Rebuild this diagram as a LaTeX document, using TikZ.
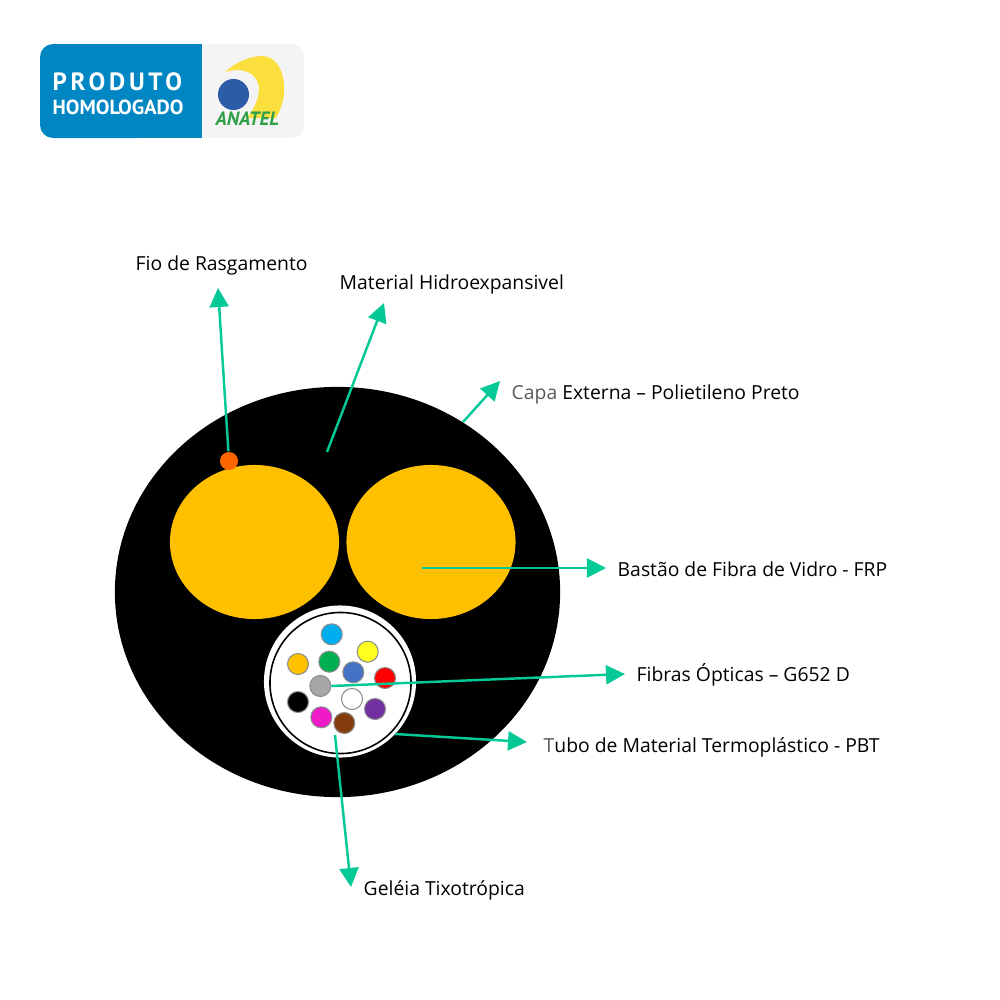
\documentclass[tikz,border=0pt]{standalone}
\usepackage{fontspec}
\setmainfont{Open Sans}
\newfontfamily\logofont[LetterSpace=15]{PT Sans}
\newfontfamily\logotight{PT Sans}
\usetikzlibrary{positioning,arrows.meta,shapes.geometric}

\definecolor{seta}{HTML}{04C997}
\definecolor{ouro}{HTML}{FFC000}
\definecolor{azulselo}{HTML}{0087C3}
\definecolor{cinzaselo}{HTML}{F4F4F4}
\definecolor{amarelologo}{HTML}{FBDF3C}
\definecolor{azullogo}{HTML}{2C5CA8}
\definecolor{verdelogo}{HTML}{2E9E47}
\definecolor{fceu}{HTML}{00AEEF}
\definecolor{famarelo}{HTML}{FFFF1E}
\definecolor{fverde}{HTML}{00B050}
\definecolor{fazul}{HTML}{4472C4}
\definecolor{fvermelho}{HTML}{FF0000}
\definecolor{fcinza}{HTML}{A6A6A6}
\definecolor{froxo}{HTML}{7030A0}
\definecolor{frosa}{HTML}{F01BC8}
\definecolor{fmarrom}{HTML}{843C0C}
\definecolor{laranja}{HTML}{FF6600}

\tikzset{
  legenda/.style={anchor=west,inner sep=0pt,font=\fontsize{5.5pt}{6pt}\selectfont},
  fibra/.style={circle,fill=#1,draw=black!45,line width=.3pt,minimum size=.21cm,inner sep=0pt},
  seta/.style={draw=seta,line width=.7pt,-{Triangle[length=.19cm,width=.19cm]}}
}

\begin{document}
\begin{tikzpicture}[x=.01cm,y=-.01cm]
        \useasboundingbox (0,0) rectangle (1000,1000);

        % selo
        \fill[cinzaselo,rounded corners=.13cm] (150,44) rectangle (304,138);
        \fill[azulselo,rounded corners=.13cm] (40,44) rectangle (150,138);
        \fill[azulselo] (120,44) rectangle (202,138);
        \fill[amarelologo] (225,72) .. controls (236,62) and (250,56) .. (263,56)
          .. controls (277,57) and (284,72) .. (284,87)
          .. controls (285,98) and (281,109) .. (276,118) -- (247,118)
          .. controls (254,109) and (259,99) .. (259,88)
          .. controls (258,75) and (246,66) .. (225,72) -- cycle;
        \node[circle,fill=azullogo,minimum size=.31cm,inner sep=0pt] (bola) at (233.5,94.5) {};
        \node[anchor=west,inner sep=0pt,text=white,font=\fontsize{7.1pt}{8pt}\logofont\bfseries] (produto) at (52,81.5) {PRODUTO};
        \node[anchor=west,inner sep=0pt,text=white,font=\fontsize{5.8pt}{7pt}\logotight\bfseries] (homologado) at (52,107) {HOMOLOGADO};
        \node[anchor=west,inner sep=0pt,text=verdelogo,font=\fontsize{5.5pt}{6pt}\logotight\bfseries\itshape] (anatel) at (215,119) {ANATEL};

        % cabo
        \begin{scope}[every node/.style={ellipse,inner sep=0pt}]
          \node[fill=black,minimum width=4.45cm,minimum height=4.1cm] (capa) at (337.5,592) {};
          \node[fill=ouro,minimum width=1.69cm,minimum height=1.54cm] (bastaoE) at (254.5,542) {};
          \node[fill=ouro,minimum width=1.69cm,minimum height=1.54cm] (bastaoD) at (431,542) {};
        \end{scope}
        \node[circle,fill=white,minimum size=1.52cm,inner sep=0pt] (tubo) at (340,681.5) {};
        \node[circle,draw=black,line width=.45pt,minimum size=1.41cm,inner sep=0pt] (anel) at (340.5,683) {};

        % fibras
        \node[fibra=fceu] (f1) at (331.7,634.3) {};
        \node[fibra=famarelo] (f2) at (367.7,651.7) {};
        \node[fibra=ouro] (f3) at (298,664) {};
        \node[fibra=fverde] (f4) at (329.3,661.7) {};
        \node[fibra=fazul] (f5) at (353.3,672.3) {};
        \node[fibra=fvermelho] (f6) at (385,678) {};
        \node[fibra=fcinza] (f7) at (320.3,686) {};
        \node[fibra=white] (f8) at (352,699) {};
        \node[fibra=black] (f9) at (298,702) {};
        \node[fibra=froxo] (f10) at (375,709) {};
        \node[fibra=frosa] (f11) at (321.3,717.3) {};
        \node[fibra=fmarrom] (f12) at (344.3,723) {};

        % pontas das setas
        \coordinate (pFio) at (218,288);
        \coordinate (pHidro) at (384,303);
        \coordinate (pCapa) at (500,381);
        \coordinate (pBastao) at (606,568);
        \coordinate (pFibras) at (625,674);
        \coordinate (pTubo) at (527,742);
        \coordinate (pGeleia) at (351,887);
        \coordinate (oHidro) at (327,452);
        \coordinate (oCapa) at (463,422);
        \coordinate (oBastao) at (422,568);
        \coordinate (oTubo) at (395,734);
        \coordinate (oGeleia) at (335,735);

        \begin{scope}[every edge/.style={seta}]
          \path (oHidro) edge (pHidro);
          \path (oCapa) edge (pCapa);
          \path (oBastao) edge (pBastao);
          \path (f7.east) edge (pFibras);
          \path (oTubo) edge (pTubo);
          \path (oGeleia) edge (pGeleia);
        \end{scope}

        \node[circle,fill=laranja,minimum size=.18cm,inner sep=0pt] (rasgo) at (229,461) {};
        \path (rasgo) edge[seta] (pFio);

        % legendas
        \begin{scope}[every node/.style={legenda}]
          \node (fio) at (135,265) {Fio de Rasgamento};
          \node (hidro) at (339,284) {Material Hidroexpansivel};
          \node (externa) at (511,394) {\textcolor{black!65}{Capa} Externa – Polietileno Preto};
          \node (bastao) at (617,569) {Bastão de Fibra de Vidro - FRP};
          \node (fibras) at (636,675) {Fibras Ópticas – G652 D};
          \node (termo) at (543,747) {\textcolor{black!65}{T}ubo de Material Termoplástico - PBT};
          \node (geleia) at (363,890) {Geléia Tixotrópica};
        \end{scope}

      \end{tikzpicture}
\end{document}
